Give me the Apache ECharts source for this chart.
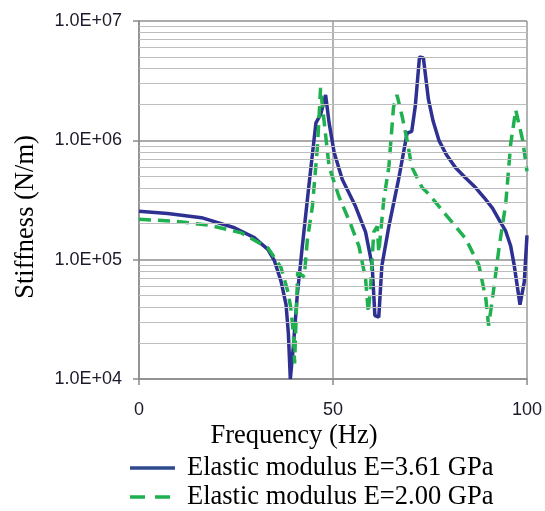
<!DOCTYPE html>
<html>
<head>
<meta charset="utf-8">
<script src="https://cdn.jsdelivr.net/npm/echarts@6/dist/echarts.min.js"></script>
<style>html,body{margin:0;padding:0;background:#fff}#c{width:545px;height:511px}</style>
</head>
<body>
<div id="c"></div>
<script>
// Series names
var seriesNames = ['Elastic modulus E=3.61 GPa', 'Elastic modulus E=2.00 GPa'];

// E = 3.61 GPa (solid blue)
var freqA = [0, 7.4, 16.1, 24.6, 29.7, 33.2, 34.9, 36.6, 37.9, 38.5, 39.0, 39.8, 40.8, 42.1, 43.8, 45.6, 46.8, 48.1, 49.0, 50.3, 52.4, 55.8, 58.4, 60.1, 60.8, 61.8, 62.6, 64.4, 66.9, 69.1, 70.3, 71.2, 72.3, 73.3, 74.6, 75.8, 77.3, 79.2, 81.6, 84.0, 86.8, 89.0, 91.1, 93.0, 94.5, 95.8, 96.7, 98.2, 99.3, 100];
var stiffA = [2.55e5, 2.44e5, 2.25e5, 1.85e5, 1.53e5, 1.22e5, 9.8e4, 6.6e4, 4.2e4, 2.4e4, 1.0e4, 1.9e4, 5.1e4, 1.3e5, 4.2e5, 1.4e6, 1.64e6, 2.4e6, 1.4e6, 7.9e5, 4.7e5, 2.8e5, 1.7e5, 8.9e4, 3.4e4, 3.3e4, 8.9e4, 1.9e5, 4.7e5, 1.15e6, 1.19e6, 1.92e6, 5.0e6, 4.9e6, 2.2e6, 1.45e6, 1.0e6, 7.6e5, 5.9e5, 4.9e5, 4.0e5, 3.3e5, 2.7e5, 2.1e5, 1.74e5, 1.3e5, 9.0e4, 4.2e4, 6.5e4, 1.6e5];

// E = 2.00 GPa (dashed green)
var freqB = [0, 9.2, 17.8, 26.3, 33.2, 36.6, 38.3, 39.1, 39.8, 40.1, 40.9, 42.6, 43.4, 44.7, 46.0, 46.8, 47.3, 49.0, 51.5, 54.5, 56.7, 58.4, 59.1, 59.7, 60.5, 61.4, 61.8, 63.1, 64.4, 65.6, 66.5, 67.8, 69.1, 70.3, 73.0, 74.7, 79.0, 84.2, 87.6, 89.4, 90.1, 91.1, 92.8, 94.5, 95.8, 97.1, 98.9, 100];
var stiffB = [2.18e5, 2.1e5, 1.95e5, 1.68e5, 1.26e5, 8.6e4, 5.5e4, 4.0e4, 2.4e4, 1.35e4, 7.8e4, 7.2e4, 1.48e5, 2.8e5, 8.9e5, 2.75e6, 1.9e6, 6.0e5, 3.4e5, 2.0e5, 1.29e5, 6.9e4, 3.6e4, 6.0e4, 1.7e5, 1.9e5, 1.15e5, 3.2e5, 6.0e5, 1.9e6, 2.4e6, 1.6e6, 1.0e6, 6.0e5, 4.0e5, 3.55e5, 2.4e5, 1.5e5, 9.0e4, 4.7e4, 2.8e4, 4.7e4, 1.26e5, 2.9e5, 9.3e5, 1.8e6, 1.0e6, 5.5e5];

// minor log gridlines (2..9 x each decade)
var minorGrid = [];
[1e4, 1e5, 1e6].forEach(function (d) { for (var k = 2; k <= 9; k++) minorGrid.push(k * d); });

var blue = '#2e3192', blueKey = '#2e4a8c', green = '#1fb04f';

function pairs(xs, ys) { return xs.map(function (x, i) { return [x, ys[i]]; }); }

var chart = echarts.init(document.getElementById('c'), null, { renderer: 'canvas' });
chart.setOption({
  animation: false,
  backgroundColor: '#ffffff',
  grid: { left: 139, right: 16, top: 21, bottom: 132, containLabel: false },
  xAxis: {
    type: 'value', min: 0, max: 100, interval: 50,
    axisLine: { show: true, lineStyle: { color: '#8a8a8a', width: 1.5 } },
    axisTick: { show: true, length: 6, lineStyle: { color: '#8a8a8a', width: 1.5 } },
    axisLabel: { margin: 22, fontFamily: 'Liberation Sans', fontSize: 18, color: '#1b1b2b' },
    splitLine: { show: true, lineStyle: { color: '#9a9a9a', width: 1.5 } }
  },
  yAxis: {
    type: 'log', logBase: 10, min: 1e4, max: 1e7,
    axisLine: { show: true, lineStyle: { color: '#8a8a8a', width: 1.5 } },
    axisTick: { show: true, length: 6, lineStyle: { color: '#8a8a8a', width: 1.5 } },
    axisLabel: {
      margin: 17, fontFamily: 'Liberation Sans', fontSize: 18, color: '#1b1b2b',
      formatter: function (v) {
        var e = Math.round(Math.log10(v));
        return '1.0E+' + (e < 10 ? '0' + e : e);
      }
    },
    splitLine: { show: true, lineStyle: { color: '#8f8f8f', width: 1.5 } }
  },
  graphic: [
    { type: 'text', x: 26, y: 217, rotation: Math.PI / 2,
      style: { text: 'Stiffness (N/m)', font: '26.5px "Liberation Serif"', fill: '#000', align: 'center', verticalAlign: 'middle' } },
    { type: 'text', x: 294, y: 436,
      style: { text: 'Frequency (Hz)', font: '26.5px "Liberation Serif"', fill: '#000', align: 'center', verticalAlign: 'middle' } },
    // legend keys
    { type: 'line', shape: { x1: 130, y1: 468, x2: 175, y2: 468 }, style: { stroke: blueKey, lineWidth: 3.5 } },
    { type: 'text', x: 187, y: 468,
      style: { text: seriesNames[0], font: '26.5px "Liberation Serif"', fill: '#000', align: 'left', verticalAlign: 'middle' } },
    { type: 'line', shape: { x1: 130, y1: 497, x2: 176, y2: 497 }, style: { stroke: green, lineWidth: 3.5, lineDash: [15, 10] } },
    { type: 'text', x: 187, y: 497,
      style: { text: seriesNames[1], font: '26.5px "Liberation Serif"', fill: '#000', align: 'left', verticalAlign: 'middle' } }
  ],
  series: [
    {
      name: '_grid', type: 'line', data: [], z: 1, silent: true,
      markLine: {
        silent: true, symbol: 'none', animation: false,
        label: { show: false },
        lineStyle: { color: '#bdbdbd', width: 1.2, type: 'solid' },
        data: minorGrid.map(function (v) { return { yAxis: v }; })
      }
    },
    {
      name: seriesNames[0], type: 'line', data: pairs(freqA, stiffA), z: 3,
      showSymbol: false, symbol: 'none', smooth: false,
      lineStyle: { color: blue, width: 3.5 }, itemStyle: { color: blue }
    },
    {
      name: seriesNames[1], type: 'line', data: pairs(freqB, stiffB), z: 4,
      showSymbol: false, symbol: 'none', smooth: false,
      lineStyle: { color: green, width: 3.5, type: [12, 7] }, itemStyle: { color: green }
    }
  ]
});
</script>
</body>
</html>
